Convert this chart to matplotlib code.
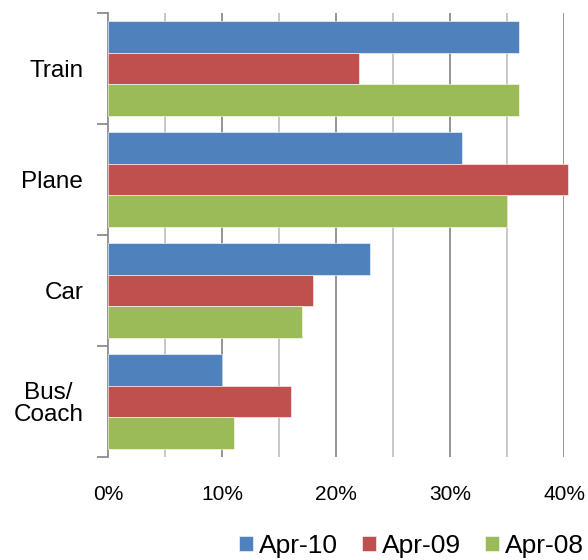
import matplotlib
matplotlib.use("Agg")
import matplotlib.pyplot as plt
import numpy as np

plt.rcParams['font.family'] = ['Liberation Sans', 'DejaVu Sans']

# data
categories = ["Train", "Plane", "Car", "Bus/\nCoach"]
series = ["Apr-10", "Apr-09", "Apr-08"]
apr10 = [36, 31, 23, 10]
apr09 = [22, 40.3, 18, 16]
apr08 = [36, 35, 17, 11]
colors = ["#4F81BD", "#C0504D", "#9BBB59"]
xticks = [0, 10, 20, 30, 40]

fig = plt.figure(figsize=(5.88, 5.60), dpi=100)
ax = fig.add_axes([108.3 / 588, 1 - 457 / 560, (564.3 - 108.3) / 588, 444 / 560])

y = np.arange(len(categories))
h = 0.288
for i, (vals, c, name) in enumerate(zip([apr10, apr09, apr08], colors, series)):
    ax.barh(y + (i - 1) * h, vals, height=h, color=c, label=name,
            edgecolor="white", linewidth=0.4, clip_on=False, zorder=3)

ax.set_xlim(0, 40)
ax.set_ylim(len(categories) - 0.5, -0.5)

# gridlines: darker every 10%, lighter at 5%
for v in [10, 20, 30, 40]:
    ax.axvline(v, color="#8c8c8c", lw=1.3, zorder=1)
for v in [5, 15, 25, 35]:
    ax.axvline(v, color="#c4c4c4", lw=1.3, zorder=1)

ax.set_xticks(xticks)
ax.set_xticklabels([f"{t}%" for t in xticks], fontsize=15)
ax.tick_params(axis="x", length=0, pad=20)

ax.set_yticks(y)
ax.set_yticklabels(categories, fontsize=17.5, multialignment="center", linespacing=1.0)
ax.set_yticks(np.arange(-0.5, len(categories)), minor=True)
ax.tick_params(axis="y", which="major", length=0, pad=18)
ax.tick_params(axis="y", which="minor", length=8, width=1.3, color="#8c8c8c")

for s in ["top", "right", "bottom"]:
    ax.spines[s].set_visible(False)
ax.spines["left"].set_color("#8c8c8c")
ax.spines["left"].set_linewidth(1.3)

fig.legend(loc="center right", bbox_to_anchor=(584 / 588, 1 - 546 / 560), ncol=3,
           frameon=False, fontsize=19, handlelength=0.53, handleheight=0.53,
           handletextpad=0.23, columnspacing=0.9, borderaxespad=0, borderpad=0)

fig.savefig("out.png", dpi=100)
